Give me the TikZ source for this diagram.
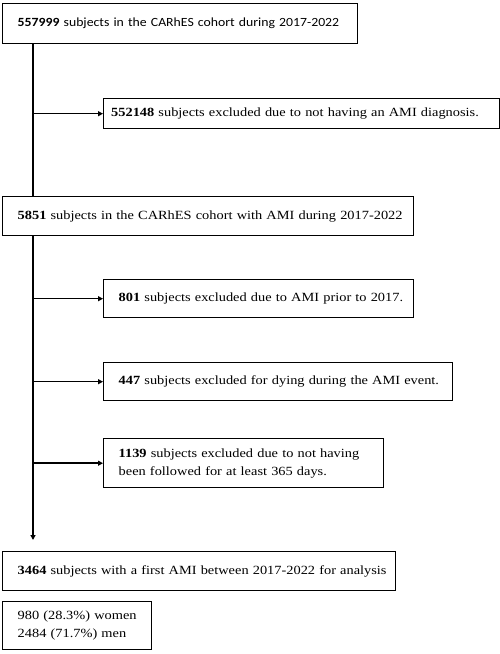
\documentclass[tikz,border=0pt]{standalone}
\usepackage{fontspec}
\setmainfont{Liberation Serif}[FakeStretch=1.15]
\newfontfamily\boxsans{Carlito}[FakeStretch=1.1]
\usetikzlibrary{arrows.meta}
\begin{document}
\begin{tikzpicture}[x=1pt,y=-1pt,
  box/.style={draw,line width=1.4pt,anchor=north west,inner xsep=0pt,inner ysep=0pt,
    font=\fontsize{12.5}{18}\selectfont,align=left},
  conn/.style={line width=1.5pt},
  arr/.style={line width=1.5pt,-{Triangle[length=5pt,width=5pt]}}]
\useasboundingbox (0,0) rectangle (500,654);
\node[box,minimum width=355pt,minimum height=40pt,text width=345pt,font=\boxsans\fontsize{12.5}{18}\selectfont] (b1) at (2,3) {\hspace*{10pt}\textbf{557999} subjects in the CARhES cohort during 2017-2022};
\node[box,minimum width=396pt,minimum height=30pt,text width=391pt] (b2) at (103,98) {\hspace*{5pt}\textbf{552148} subjects excluded due to not having an AMI diagnosis.};
\node[box,minimum width=411pt,minimum height=39pt,text width=401pt] (b3) at (2,196) {\hspace*{10pt}\textbf{5851} subjects in the CARhES cohort with AMI during 2017-2022};
\node[box,minimum width=310pt,minimum height=38pt,text width=300pt] (b4) at (103,279) {\hspace*{10pt}\textbf{801} subjects excluded due to AMI prior to 2017.};
\node[box,minimum width=349pt,minimum height=38pt,text width=339pt] (b5) at (103,362) {\hspace*{10pt}\textbf{447} subjects excluded for dying during the AMI event.};
\node[box,minimum width=280pt,minimum height=49pt,text width=270pt] (b6) at (103,438) {\hspace*{10pt}\textbf{1139} subjects excluded due to not having\\\hspace*{10pt}been followed for at least 365 days.};
\node[box,minimum width=393pt,minimum height=39pt,text width=383pt] (b7) at (2,551) {\hspace*{10pt}\textbf{3464} subjects with a first AMI between 2017-2022 for analysis};
\node[box,minimum width=149pt,minimum height=48pt,text width=139pt] (b8) at (2,601) {\hspace*{10pt}980 (28.3\%) women\\\hspace*{10pt}2484 (71.7\%) men};
% connectors
\coordinate (t1) at (33,43);
\coordinate (t3) at (33,196);
\coordinate (s3) at (33,235);
\coordinate (a7) at (33,540);
\draw[conn] (t1) -- (t3);
\draw[arr] (t1 |- b2.west) -- (b2.west);
\draw[arr] (s3) -- (a7);
\draw[arr] (s3 |- b4.west) -- (b4.west);
\draw[arr] (s3 |- b5.west) -- (b5.west);
\draw[arr] (s3 |- b6.west) -- (b6.west);
\end{tikzpicture}
\end{document}
